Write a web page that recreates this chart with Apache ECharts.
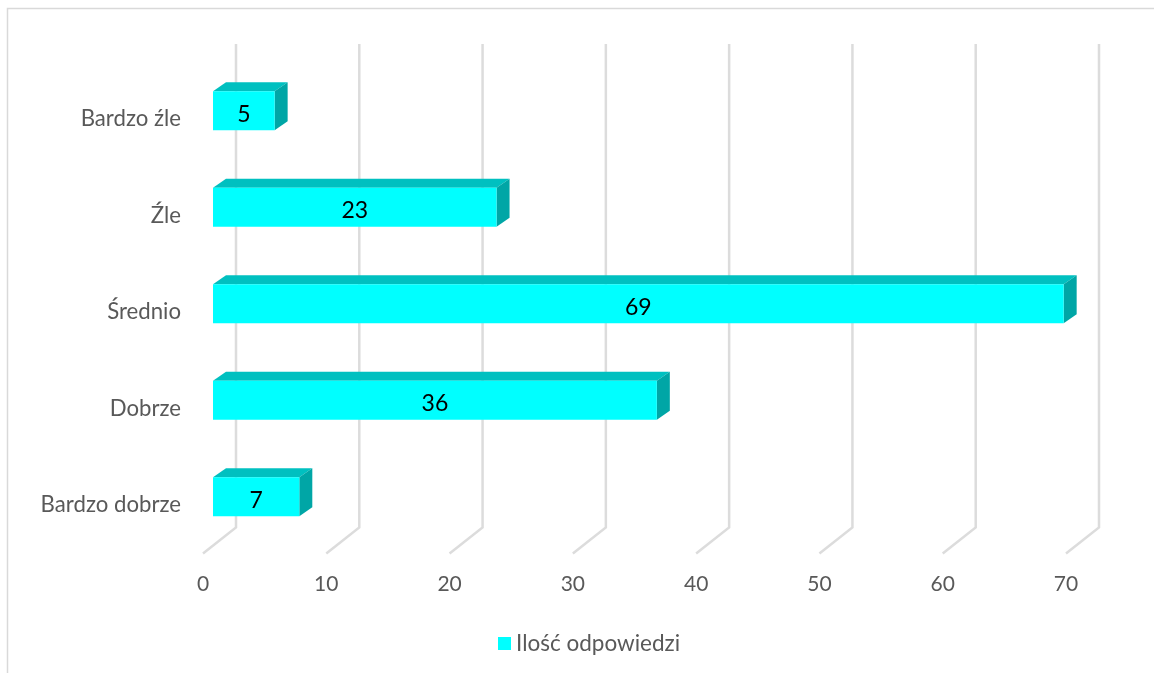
<!DOCTYPE html>
<html>
<head>
<meta charset="utf-8">
<style>html,body{margin:0;padding:0;background:#fff}#c{width:1154px;height:673px}</style>
<script src="https://cdn.jsdelivr.net/npm/echarts@6/dist/echarts.min.js"></script>
</head>
<body>
<div id="c"></div>
<script>
var categories = ['Bardzo źle', 'Źle', 'Średnio', 'Dobrze', 'Bardzo dobrze'];
var values = [5, 23, 69, 36, 7];
var gridTicks = [0, 10, 20, 30, 40, 50, 60, 70];
var seriesName = 'Ilość odpowiedzi';

var FONT = 'Lato, "Open Sans", sans-serif';
var chart = echarts.init(document.getElementById('c'), null, {renderer: 'canvas'});

function renderWall(params, api) {
  var p = api.coord([api.value(0), 4]);
  var x = p[0], floorY = 553.5;
  return {
    type: 'polyline',
    shape: {points: [[x, floorY], [x + 33, floorY - 26], [x + 33, 44]]},
    style: {stroke: '#dcdcdc', lineWidth: 2.5, fill: null},
    silent: true
  };
}

function renderBar(params, api) {
  var val = api.value(0);
  var zero = api.coord([0, api.value(1)]);
  var end = api.coord([val, api.value(1)]);
  var x0 = zero[0] + 10, x1 = end[0] + 10;
  var top = zero[1] - 28, bot = zero[1] + 11;
  var dx = 13, dy = 9;
  return {
    type: 'group',
    children: [
      {type: 'polygon', shape: {points: [[x0, top], [x0 + dx, top - dy], [x1 + dx, top - dy], [x1, top]]},
        style: {fill: '#00c0c0'}},
      {type: 'polygon', shape: {points: [[x1, top], [x1 + dx, top - dy], [x1 + dx, bot - dy], [x1, bot]]},
        style: {fill: '#00a6a6'}},
      {type: 'rect', shape: {x: x0, y: top, width: x1 - x0, height: bot - top},
        style: {fill: '#00ffff'}},
      {type: 'text', x: (x0 + x1) / 2, y: (top + bot) / 2 + 3.5,
        style: {text: String(val), fill: '#000', font: '23px ' + FONT, align: 'center', verticalAlign: 'middle'}}
    ]
  };
}

chart.setOption({
  animation: false,
  backgroundColor: '#fff',
  graphic: [{
    type: 'rect', silent: true, z: -1,
    shape: {x: 7.5, y: 8.5, width: 1300, height: 800},
    style: {fill: null, stroke: '#d9d9d9', lineWidth: 1.5}
  }],
  grid: {left: 203, top: 71, width: 863, height: 482.5},
  xAxis: {
    type: 'value', min: 0, max: 70, interval: 10,
    axisLine: {show: false}, axisTick: {show: false}, splitLine: {show: false},
    axisLabel: {color: '#595959', fontFamily: FONT, fontSize: 21, margin: 20}
  },
  yAxis: {
    type: 'category', inverse: true, data: categories,
    axisLine: {show: false}, axisTick: {show: false}, splitLine: {show: false},
    axisLabel: {color: '#595959', fontFamily: FONT, fontSize: 22.2, margin: 22, padding: [3, 0, 0, 0]}
  },
  legend: {
    data: [{name: seriesName, icon: 'rect'}],
    left: 493, top: 627, itemWidth: 13, itemHeight: 13, itemGap: 5,
    textStyle: {color: '#595959', fontFamily: FONT, fontSize: 22.5, padding: [0, 0, 0, 0]},
    selectedMode: false
  },
  series: [
    {type: 'custom', coordinateSystem: 'cartesian2d', renderItem: renderWall, z: 1,
      encode: {x: 0}, data: gridTicks.map(function (v) { return [v]; }), silent: true},
    {type: 'custom', name: seriesName, coordinateSystem: 'cartesian2d', renderItem: renderBar, z: 2,
      itemStyle: {color: '#00ffff'},
      encode: {x: 0, y: 1},
      data: values.map(function (v, i) { return [v, i]; })}
  ]
});
</script>
</body>
</html>
